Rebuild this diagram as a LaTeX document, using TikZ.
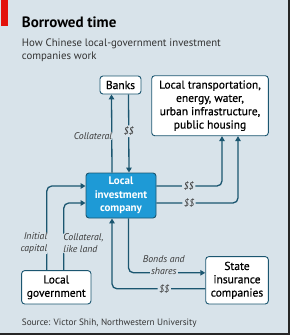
\documentclass[tikz,border=0pt]{standalone}
\usepackage{fontspec}
\setmainfont{PT Sans}
\newfontfamily\medfont{PT Sans}[FakeBold=0.6]
\usetikzlibrary{arrows.meta}
\definecolor{paper}{HTML}{D8E3EA}
\definecolor{ink}{HTML}{1B5670}
\definecolor{company}{HTML}{1E9AD6}
\definecolor{redbar}{HTML}{E3120B}
\definecolor{tagtext}{HTML}{3A3A3A}

\begin{document}
\begin{tikzpicture}[
  x=1pt, y=-1pt,
  flow/.style={-{Triangle[length=5pt,width=5.5pt]}, line width=1.3pt, draw=ink, rounded corners=5pt},
  box/.style={draw=ink, line width=0.9pt, fill=white, rounded corners=3pt, align=center, inner sep=1pt, font=\fontsize{11.5}{13.3}\medfont},
  hub/.style={box, fill=company, text=white, font=\fontsize{11}{13.3}\selectfont\bfseries},
  tag/.style={fill=paper, inner sep=1.5pt, font=\fontsize{9.8}{12}\selectfont\itshape, text=tagtext}
]
\useasboundingbox (0,0) rectangle (290,335);
\fill[paper] (0,0) rectangle (290,335);
\fill[redbar] (1,0) rectangle (8,26);
\draw[black!85, line width=2pt] (289,0) -- (289,334) -- (0,334);

% heading
\node[anchor=base west, inner sep=0, font=\fontsize{15}{18}\selectfont\bfseries] (title) at (21.7,27) {Borrowed time};
\node[anchor=base west, inner sep=0, align=left, text=black!80, font=\fontsize{10.8}{12.7}\selectfont] (subtitle) at (21.7,59.3) {How Chinese local-government investment\\companies work};

% boxes
\node[box, minimum width=41pt, minimum height=18pt] (banks) at (120.5,85) {Banks};
\node[box, minimum width=116.6pt, minimum height=60pt] (infra) at (210,105.7) {Local transportation,\\energy, water,\\urban infrastructure,\\public housing};
\node[hub, minimum width=70pt, minimum height=45pt] (lic) at (121,195.5) {Local\\investment\\company};
\node[box, minimum width=69.3pt, minimum height=33.3pt] (govt) at (56.3,287.3) {Local\\government};
\node[box, minimum width=62.6pt, minimum height=47.3pt] (insurance) at (237,280.3) {State\\insurance\\companies};

% flows
\draw[flow] ([xshift=-9pt]lic.north) -- node[tag, pos=0.47, anchor=east, xshift=2.5pt] {Collateral} ([xshift=-9pt]banks.south);
\draw[flow] ([xshift=8pt]banks.south) -- node[tag, pos=0.47] {\$\$} ([xshift=8pt]lic.north);
\draw[flow] ([yshift=9.5pt]lic.east) -| node[tag, pos=0.246] {\$\$} ([xshift=12pt]infra.south);
\draw[flow] ([yshift=-7.5pt]lic.east) -| node[tag, pos=0.2] {\$\$} ([xshift=28pt]infra.south);
\draw[flow] ([xshift=-9.5pt]govt.north) |- node[tag, pos=0.16, anchor=east, xshift=2.5pt, align=right] {Initial\\capital} ([yshift=9.5pt]lic.west);
\draw[flow] ([xshift=7.5pt]govt.north) |- node[tag, pos=0.2, anchor=west, xshift=-2.5pt, align=left] {Collateral,\\like land} ([yshift=-7.5pt]lic.west);
\draw[flow] ([xshift=7.5pt]lic.south) |- node[tag, fill=none, inner sep=0, pos=0.73, anchor=south, yshift=-4pt, align=center] {Bonds and\\\fboxsep=1.5pt\colorbox{paper}{shares}} ([yshift=7.5pt]insurance.west);
\draw[flow] ([yshift=-8.5pt]insurance.west) -| node[tag, pos=0.22] {\$\$} ([xshift=-9pt]lic.south);

% source
\node[anchor=base west, inner sep=0, text=black!80, font=\fontsize{9.2}{11}\selectfont] (source) at (21.7,325) {Source: Victor Shih, Northwestern University};
\end{tikzpicture}
\end{document}
